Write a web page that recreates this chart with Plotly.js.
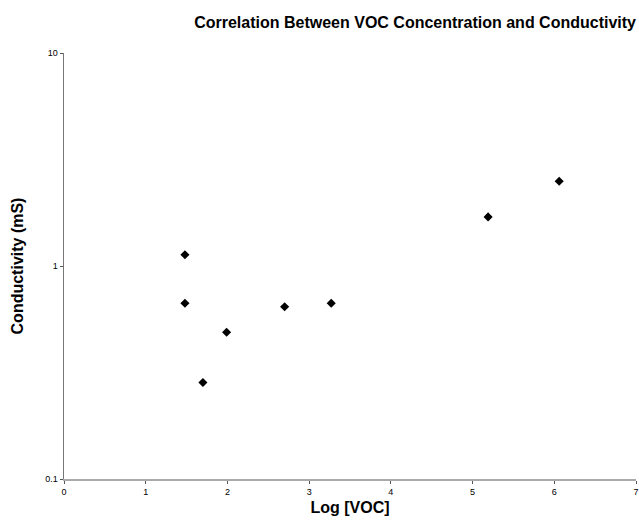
<!DOCTYPE html>
<html>
<head>
<meta charset="utf-8">
<script src="https://cdn.plot.ly/plotly-3.0.1.min.js"></script>
<style>html,body{margin:0;padding:0;background:#fff;}#chart{width:639px;height:521px;}</style>
</head>
<body>
<div id="chart"></div>
<script>
const logVOC = [1.48, 1.48, 1.70, 1.99, 2.70, 3.27, 5.19, 6.06];
const conductivity = [1.13, 0.668, 0.284, 0.489, 0.644, 0.668, 1.70, 2.50];
const yTickVals = [0.1, 1, 10];
const yTickText = ['0.1', '1', '10'];
const xTickVals = [0, 1, 2, 3, 4, 5, 6, 7];

const trace = {
  x: logVOC,
  y: conductivity,
  type: 'scatter',
  mode: 'markers',
  marker: {symbol: 'diamond', size: 7, color: '#000'},
  showlegend: false,
  hoverinfo: 'x+y'
};

const layout = {
  width: 639, height: 521,
  margin: {l: 64, r: 3, t: 53, b: 42},
  paper_bgcolor: '#fff', plot_bgcolor: '#fff',
  font: {family: 'Liberation Sans, Arial, sans-serif', color: '#000'},
  title: {
    text: '<b>Correlation Between VOC Concentration and Conductivity</b>',
    font: {size: 16, family: 'Liberation Sans, Arial, sans-serif', color: '#000'},
    x: 1, xref: 'paper', xanchor: 'right',
    y: 1 - 22/521, yref: 'container', yanchor: 'middle'
  },
  xaxis: {
    range: [0, 7],
    tickvals: xTickVals,
    ticktext: xTickVals.map(String),
    ticklabeloverflow: 'allow',
    showgrid: false, zeroline: false,
    showline: true, linecolor: '#aaa', linewidth: 2,
    ticks: 'outside', ticklen: 3, tickcolor: '#555',
    tickfont: {size: 9, color: '#000'},
    title: {text: '<b>Log [VOC]</b>', font: {size: 16, color: '#000'}, standoff: 6}
  },
  yaxis: {
    type: 'log',
    range: [-1, 1],
    tickvals: yTickVals,
    ticktext: yTickText,
    showgrid: false, zeroline: false,
    showline: true, linecolor: '#777', linewidth: 1.5,
    ticks: 'outside', ticklen: 3, tickcolor: '#555',
    tickfont: {size: 9, color: '#000'},
    title: {text: '<b>Conductivity (mS)</b>', font: {size: 16, color: '#000'}, standoff: 17}
  }
};

Plotly.newPlot('chart', [trace], layout, {displayModeBar: false, staticPlot: true});
</script>
</body>
</html>
